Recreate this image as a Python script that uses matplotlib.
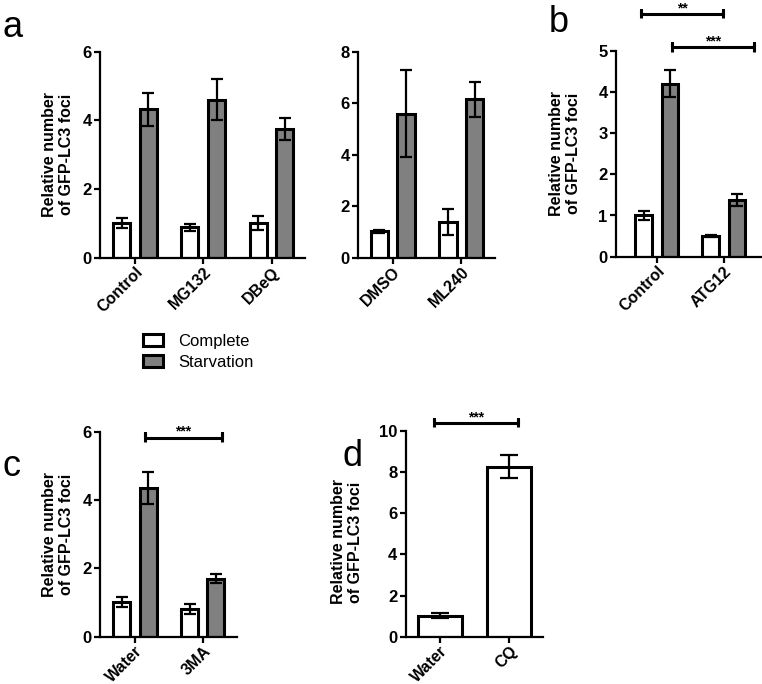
import numpy as np
import matplotlib.pyplot as plt
from matplotlib.patches import Patch

plt.rcParams['font.family'] = ['Liberation Sans', 'DejaVu Sans']

# panel a, left: proteasome inhibitors
a1_groups = ['Control', 'MG132', 'DBeQ']
a1_complete = [1.02, 0.88, 1.02]
a1_complete_err = [0.15, 0.10, 0.20]
a1_starv = [4.33, 4.60, 3.74]
a1_starv_err = [0.48, 0.60, 0.32]

# panel a, right
a2_groups = ['DMSO', 'ML240']
a2_complete = [1.02, 1.40]
a2_complete_err = [0.07, 0.50]
a2_starv = [5.60, 6.15]
a2_starv_err = [1.68, 0.68]

# panel b
b_groups = ['Control', 'ATG12']
b_complete = [1.01, 0.50]
b_complete_err = [0.11, 0.03]
b_starv = [4.20, 1.37]
b_starv_err = [0.32, 0.15]

# panel c
c_groups = ['Water', '3MA']
c_complete = [1.02, 0.81]
c_complete_err = [0.15, 0.14]
c_starv = [4.35, 1.70]
c_starv_err = [0.47, 0.13]

# panel d
d_groups = ['Water', 'CQ']
d_values = [1.02, 8.26]
d_err = [0.13, 0.57]

GRAY = '#808080'
ylab = 'Relative number\nof GFP-LC3 foci'


def style_axes(ax, groups, ymax, step, xlim):
    ax.set_ylim(0, ymax)
    ax.set_xlim(*xlim)
    ax.set_yticks(np.arange(0, ymax + 0.01, step))
    ax.set_xticks(np.arange(len(groups)))
    ax.set_xticklabels(groups, rotation=45, ha='right', rotation_mode='anchor',
                       fontsize=11.5, fontweight='bold')
    for lab in ax.get_yticklabels():
        lab.set_fontweight('bold')
        lab.set_fontsize(12)
    for s in ['top', 'right']:
        ax.spines[s].set_visible(False)
    for s in ['left', 'bottom']:
        ax.spines[s].set_linewidth(1.6)
    ax.tick_params(width=1.6, length=4, pad=2)
    ax.tick_params(axis='x', pad=1)


def paired_bars(ax, complete, c_err, starv, s_err):
    x = np.arange(len(complete))
    off, w = 0.195, 0.25
    ax.bar(x - off, complete, w, color='white', edgecolor='black', linewidth=2.2, zorder=2)
    ax.bar(x + off, starv, w, color=GRAY, edgecolor='black', linewidth=2.2, zorder=2)
    ax.errorbar(x - off, complete, yerr=c_err, fmt='none', ecolor='black',
                elinewidth=1.6, capsize=4.5, capthick=1.6, zorder=3)
    ax.errorbar(x + off, starv, yerr=s_err, fmt='none', ecolor='black',
                elinewidth=1.6, capsize=4.5, capthick=1.6, zorder=3)


def bracket(ax, x0, x1, y, h, text):
    ax.plot([x0, x0, x0, x1, x1, x1], [y - h, y + h, y, y, y + h, y - h],
            color='black', lw=2.2, clip_on=False, solid_capstyle='butt')
    ax.annotate(text, xy=((x0 + x1) / 2, y), xytext=(0, 4), textcoords='offset points',
                ha='center', va='center', fontsize=10, fontweight='bold',
                annotation_clip=False)


fig = plt.figure(figsize=(7.62, 6.84), dpi=100)
W, H = 762.0, 684.0


def axes_px(x0, x1, ytop, ybot):
    return fig.add_axes([x0 / W, 1 - ybot / H, (x1 - x0) / W, (ybot - ytop) / H])


# a left
ax1 = axes_px(100, 305, 51.7, 257.7)
paired_bars(ax1, a1_complete, a1_complete_err, a1_starv, a1_starv_err)
style_axes(ax1, a1_groups, 6, 2, (-0.51, 2.49))
ax1.set_ylabel(ylab, fontsize=11.5, fontweight='bold')
ax1.yaxis.set_label_coords(-0.125, 0.5)

# a right
ax2 = axes_px(358.3, 495, 51.7, 257.7)
paired_bars(ax2, a2_complete, a2_complete_err, a2_starv, a2_starv_err)
style_axes(ax2, a2_groups, 8, 2, (-0.50, 1.49))

# b
ax3 = axes_px(616, 760.7, 50.7, 256.7)
paired_bars(ax3, b_complete, b_complete_err, b_starv, b_starv_err)
style_axes(ax3, b_groups, 5, 1, (-0.61, 1.55))
ax3.set_ylabel(ylab, fontsize=11.5, fontweight='bold')
ax3.yaxis.set_label_coords(-0.24, 0.5)
bracket(ax3, -0.24, 0.99, 5.89, 0.1, '**')
bracket(ax3, 0.23, 1.45, 5.08, 0.1, '***')

# c
ax4 = axes_px(100, 236.7, 431.7, 636.7)
paired_bars(ax4, c_complete, c_complete_err, c_starv, c_starv_err)
style_axes(ax4, c_groups, 6, 2, (-0.517, 1.502))
ax4.set_ylabel(ylab, fontsize=11.5, fontweight='bold')
ax4.yaxis.set_label_coords(-0.19, 0.5)
bracket(ax4, 0.15, 1.28, 5.83, 0.12, '***')

# d
ax5 = axes_px(405.7, 543.3, 430.7, 636.7)
xd = np.arange(len(d_values))
ax5.bar(xd, d_values, 0.63, color='white', edgecolor='black', linewidth=2.2, zorder=2)
ax5.errorbar(xd, d_values, yerr=d_err, fmt='none', ecolor='black',
             elinewidth=1.6, capsize=6.5, capthick=1.6, zorder=3)
style_axes(ax5, d_groups, 10, 2, (-0.495, 1.49))
ax5.set_ylabel(ylab, fontsize=11.5, fontweight='bold')
ax5.yaxis.set_label_coords(-0.31, 0.46)
bracket(ax5, -0.08, 1.12, 10.37, 0.2, '***')

# legend
handles = [Patch(facecolor='white', edgecolor='black', linewidth=2.2, label='Complete'),
           Patch(facecolor=GRAY, edgecolor='black', linewidth=2.2, label='Starvation')]
fig.legend(handles=handles, loc='center left', bbox_to_anchor=(143 / W, 1 - 352 / H),
           frameon=False, fontsize=12, handlelength=1.2, handleheight=0.7,
           handletextpad=0.9, labelspacing=0.35, borderpad=0, borderaxespad=0)

# panel letters
for letter, px, py in [('a', 2, 37), ('b', 549, 32), ('c', 2, 476), ('d', 342, 466)]:
    fig.text(px / W, 1 - py / H, letter, fontsize=26, va='baseline', ha='left')

fig.savefig('out.png', dpi=100)
